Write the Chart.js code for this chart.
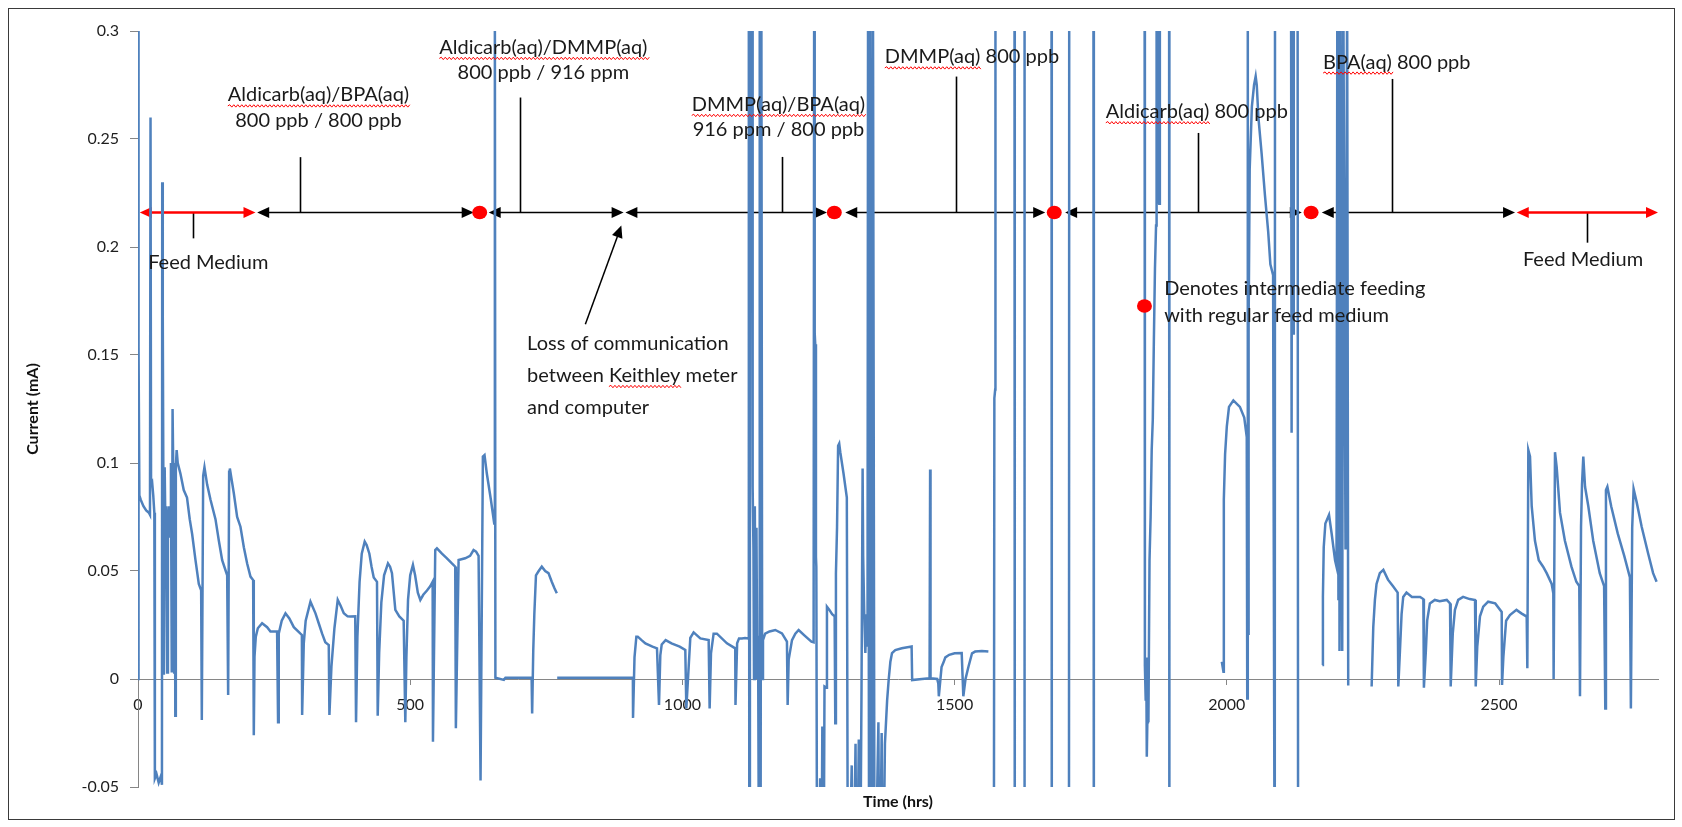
<!DOCTYPE html>
<html>
<head>
<meta charset="utf-8">
<title>Current vs time</title>
<script src="https://cdn.jsdelivr.net/npm/chart.js@4.4.1/dist/chart.umd.min.js"></script>
<style>
  html, body { margin: 0; padding: 0; background: #fff; }
  #wrap { width: 1682px; height: 827px; position: relative; }
</style>
</head>
<body>
<div id="wrap"><canvas id="currentChart"></canvas></div>
<script>
// Keithley readings per feeding phase: [time (hrs), current (mA)]
// null = break in the log; 0.32 / -0.12 = pegged off scale
const feedStart = [
  [0, 0], [0.5, 0.32], [1.5, 0.154], [2.5, 0.085], [5, 0.083], [10, 0.08], [15, 0.078], [20, 0.077], [22, 0.076], [23, 0.26],
  [24, 0.09], [26, 0.091], [28, 0.085], [30, 0.077], [31, -0.046], [34, -0.044], [38, -0.048], [42, -0.045], [44, -0.049], [44.5, 0.23],
  [45.5, 0.168], [46.5, 0.098], [47.5, 0.002], [49, 0.098], [50.5, 0.066], [52, 0.08], [53.5, 0.003], [55, 0.07], [57, 0.08], [59, 0.066],
  [60.5, 0.1], [62, 0.003], [63.5, 0.125], [64.5, 0.103], [66.5, 0.003], [67.5, 0.1], [68.5, -0.017], [69.5, 0.098], [71, 0.106], [73, 0.1],
  [75, 0.098], [78, 0.095], [84, 0.0875], [90, 0.084], [95, 0.074], [99.5, 0.067], [105.6, 0.055], [111.7, 0.044], [116, 0.041], [117.2, -0.019],
  [119.7, 0.094], [122.1, 0.098], [127, 0.09], [133.2, 0.083], [142.3, 0.074], [148.5, 0.064], [154.6, 0.055], [163.8, 0.048], [165.6, -0.0074], [167.4, 0.096],
  [168.7, 0.0975], [176, 0.086], [182.1, 0.075], [188.2, 0.0705], [194.4, 0.061], [200.5, 0.0535], [206.6, 0.0474], [211.5, 0.0458], [212.7, -0.026], [214, 0.0103],
  [216.4, 0.0196]
];
const aldicarbBpa = [
  [220.1, 0.0235], [228, 0.0258], [237.2, 0.024], [243.3, 0.022], [255.5, 0.022], [257.3, -0.02], [258.5, 0.021], [264, 0.027], [270.9, 0.0304], [278, 0.028],
  [286.2, 0.024], [298.4, 0.021], [301, 0.0204], [301.5, -0.0167], [304.5, 0.0165], [308, 0.027], [316.8, 0.0358], [326, 0.0304], [333, 0.025], [338.2, 0.021],
  [344, 0.017], [350.4, 0.0157], [351.6, -0.0167], [355.3, 0.0057], [360.8, 0.0235], [366.9, 0.0366], [372, 0.034], [378, 0.0304], [385, 0.029], [390.2, 0.0289],
  [399, 0.029], [400.5, -0.02], [403, 0.0195], [407, 0.045], [411, 0.058], [416.4, 0.0636], [420, 0.062], [425, 0.058], [429, 0.052], [433, 0.047],
  [439, 0.045], [440.3, -0.017], [443, 0.012], [447, 0.0355], [452, 0.048], [459.2, 0.0535], [463, 0.052], [466.5, 0.049], [472.7, 0.032], [480, 0.029],
  [488, 0.027], [491, -0.02], [493, 0.01], [496, 0.0366], [500, 0.048], [505, 0.0528], [509, 0.048], [514, 0.04], [518.6, 0.0366], [524, 0.039],
  [530.8, 0.041], [537, 0.043], [541.2, 0.045], [541.8, -0.029], [546, 0.0597], [549.1, 0.0605], [558.3, 0.058], [567, 0.056], [576.6, 0.0535], [582.7, 0.052],
  [583.9, -0.0228], [588.9, 0.0551], [601, 0.0559], [610, 0.057], [616.4, 0.0597], [621, 0.059], [625.6, 0.057]
];
const aldicarbDmmp = [
  [629.2, -0.047], [633.5, 0.103], [636.5, 0.1037], [640.8, 0.095], [648.2, 0.083], [654.3, 0.072], [655.5, 0.32], [656.5, 0.0006], [672, -0.0004], [675, 0.0006],
  [723, 0.0006], [724, -0.016], [726, 0.013], [728, 0.03], [731, 0.048], [736, 0.05], [741.7, 0.052], [748, 0.05], [754, 0.049], [760, 0.045],
  [765, 0.042], [769.3, 0.0397], [769.6, null], [770, 0.0006]
];
const dmmpBpa = [
  [909, 0.0006], [909.3, -0.018], [912, 0.01], [915.4, 0.0196], [918, 0.0196], [925, 0.018], [932, 0.0165], [945, 0.015], [953.3, 0.0142], [957, -0.012],
  [959.4, 0.011], [962, 0.016], [969.2, 0.018], [980, 0.0165], [995, 0.015], [1005.3, 0.0134], [1007.2, -0.0136], [1014.5, 0.019], [1020.6, 0.0216], [1032.9, 0.0188],
  [1048.2, 0.018], [1050, -0.0136], [1052.5, 0.0119], [1057.3, 0.021], [1063.4, 0.021], [1081.8, 0.0165], [1097, 0.0142], [1097.5, -0.012], [1100.5, 0.0165], [1104, 0.0188],
  [1109.3, 0.0188], [1115, 0.019], [1121, 0.0188], [1122, 0.32], [1123, -0.12], [1124, 0.32], [1128, 0.32], [1129, 0.089], [1130.5, 0.06], [1131.5, 0],
  [1133, 0.08], [1134.5, 0.003], [1136, 0.07], [1137.5, 0], [1139, 0.02], [1141, -0.12], [1142, 0.32], [1143.5, -0.12], [1145, 0.32], [1146.5, 0],
  [1148, 0.018], [1152, 0.021], [1160, 0.022], [1170.6, 0.0227], [1182.9, 0.0211], [1192, 0.0173], [1193.3, -0.012], [1195.2, 0.009], [1201.3, 0.018], [1207.4, 0.021],
  [1213.5, 0.0227], [1225, 0.02], [1237, 0.0173], [1241, 0.017], [1242, 0.32], [1243, 0.16], [1244, 0.155], [1245.3, 0.0566], [1246, 0.052], [1247.5, -0.12],
  [1250, -0.12], [1253, -0.046], [1255, -0.12], [1257, -0.022], [1259, -0.12], [1261, -0.0035], [1264, -0.004], [1265.5, 0.0335], [1270, 0.032], [1275, 0.03],
  [1279.6, 0.029]
];
const dmmpOnly = [
  [1280.8, -0.0205], [1282, 0.049], [1284, 0.07], [1286, 0.108], [1288, 0.109], [1290, 0.105], [1296, 0.095], [1302, 0.084], [1304.1, -0.12], [1311, -0.04],
  [1313, -0.12], [1318, -0.03], [1320, -0.12], [1324, -0.028], [1326, -0.12], [1329, -0.004], [1331, 0.0975], [1332, 0.057], [1334, 0.03], [1336, 0.012],
  [1338, 0.03], [1340, 0.015], [1341, 0.32], [1343, -0.12], [1345, 0.32], [1348, -0.12], [1350, 0.32], [1353, -0.12], [1360, -0.02], [1362, -0.12],
  [1366, -0.025], [1368, -0.12], [1372, -0.03], [1376, -0.01], [1379, 0], [1382, 0.008], [1385, 0.012], [1391, 0.0134], [1403, 0.0142], [1421, 0.015],
  [1422, -0.0005], [1440, 0], [1454, 0.0003], [1455, 0.097], [1455.5, 0.0736], [1456, 0.0003], [1468, 0], [1470, -0.002], [1471, -0.008], [1476, 0.0055],
  [1480, 0.008], [1483, 0.01], [1490, 0.0112], [1500, 0.0119], [1513, 0.012], [1516, -0.008], [1520, 0], [1525.4, 0.0057], [1532, 0.0119], [1537.7, 0.0127],
  [1550, 0.013], [1562, 0.0127], [1563, null], [1572, -0.12], [1573, 0.13], [1574.5, 0.134], [1575, 0.32], [1610, 0.32], [1610.5, -0.12], [1628, -0.12],
  [1628.5, 0.32], [1678, 0.32]
];
const aldicarbOnly = [
  [1678.5, -0.12], [1710, -0.12], [1710.5, 0.32], [1755, 0.32], [1755.5, -0.12], [1756, 0.32], [1849, 0.32], [1849.5, 0.006], [1851, -0.01], [1852, 0.01],
  [1853, -0.036], [1854, -0.02], [1855, 0.005], [1856, -0.02], [1858, 0.055], [1860, 0.075], [1862, 0.106], [1864, 0.12], [1866, 0.157], [1868, 0.19],
  [1870, 0.21], [1871, 0.32], [1873, 0.22], [1874, 0.32], [1876, 0.22], [1877, 0.32], [1894, 0.32], [1894.5, -0.12], [1895, null], [1990.8, 0.008],
  [1993.8, 0.0034], [1994.5, 0.083], [1996.8, 0.104], [2000, 0.117], [2004, 0.126], [2012, 0.129], [2024, 0.126], [2032, 0.121], [2036.6, 0.112], [2037.5, -0.009],
  [2038.5, 0.32], [2039, 0.021], [2040, 0.163], [2042, 0.236], [2046, 0.265], [2050, 0.275], [2053, 0.279], [2055, 0.275], [2058, 0.26], [2064, 0.243],
  [2070, 0.224], [2076, 0.207], [2080, 0.192], [2085, 0.187], [2088, -0.12], [2088.5, 0.32], [2118, 0.32], [2119, 0.114], [2120, 0.32], [2122, 0.16],
  [2123, 0.32], [2130, 0.32], [2131, -0.12], [2132, null]
];
const bpaOnly = [
  [2175.5, 0.0065], [2176.5, 0.038], [2178, 0.061], [2181, 0.072], [2187.7, 0.076], [2192.7, 0.067], [2198.8, 0.055], [2201.5, 0.052], [2203, 0.32], [2205, 0.037],
  [2206, 0.32], [2207, 0.013], [2209, 0.32], [2211, 0.06], [2212, 0.013], [2214, 0.32], [2218, 0.06], [2221, 0.32], [2223, -0.003], [2224, null],
  [2266, -0.0035], [2269, 0.024], [2272, 0.0366], [2275, 0.044], [2281, 0.049], [2287.5, 0.0505], [2296, 0.046], [2305, 0.043], [2313.8, 0.04], [2315, -0.0035],
  [2318, 0.013], [2321, 0.03], [2324, 0.038], [2330, 0.04], [2340, 0.038], [2355, 0.038], [2361, 0.037], [2362, -0.004], [2365.6, 0.013], [2368, 0.027],
  [2373, 0.035], [2382, 0.0366], [2391, 0.036], [2404, 0.0366], [2410, 0.035], [2411.2, -0.0035], [2415, 0.021], [2419, 0.032], [2425, 0.0366], [2434, 0.038],
  [2446, 0.037], [2455.9, 0.0366], [2457.2, -0.0035], [2460, 0.015], [2465, 0.029], [2471, 0.0335], [2480, 0.0358], [2493, 0.035], [2504.9, 0.031], [2505.5, -0.0028],
  [2508, 0.0103], [2513, 0.027], [2520, 0.0296], [2532, 0.032]
];
const feedEnd = [
  [2541, 0.0304], [2550.8, 0.0289], [2552, 0.005], [2553.8, 0.106], [2556.9, 0.103], [2560, 0.08], [2566, 0.064], [2573, 0.055], [2581, 0.052], [2587.5, 0.049],
  [2596.7, 0.044], [2599.7, 0.0397], [2600.3, 0], [2602.8, 0.105], [2605.9, 0.098], [2612, 0.077], [2621, 0.064], [2633, 0.052], [2642, 0.045], [2647.4, 0.043],
  [2648.7, -0.008], [2650.6, 0.0705], [2652.4, 0.09], [2654.8, 0.103], [2658, 0.089], [2664, 0.08], [2673, 0.064], [2685, 0.049], [2693, 0.043], [2695.2, -0.0136],
  [2696.4, 0.0875], [2699, 0.089], [2706, 0.08], [2718, 0.0674], [2730, 0.057], [2740.4, 0.047], [2742.2, -0.0136], [2744.6, 0.07], [2747.2, 0.088], [2752.7, 0.082],
  [2762, 0.0705], [2774, 0.058], [2783, 0.049], [2789.4, 0.045]
];

const xTicks = [0, 500, 1000, 1500, 2000, 2500];
const xTickLabels = ['0', '500', '1000', '1500', '2000', '2500'];
const yTicks = [-0.05, 0, 0.05, 0.1, 0.15, 0.2, 0.25, 0.3];
const yTickLabels = ['-0.05', '0', '0.05', '0.1', '0.15', '0.2', '0.25', '0.3'];

// phase bar: arrows, feed dots, leader lines and labels (data units)
const arrowRow = 0.216;
const redSpans = [[3.3, 215.8], [2532.5, 2792]];
const blackSpans = [[218.9, 616.6], [644.2, 892], [895.2, 1265.5], [1299.1, 1666.4], [1703, 2137.7], [2174.4, 2529.4]];
const feedDots = [627.6, 1279, 1683, 2154.8];
const leaders = [[101.4, 0.204], [297.1, 0.2416], [702.3, 0.2692], [1182.9, 0.2417], [1502.4, 0.2789], [1947.8, 0.2528], [2304.1, 0.2778], [2661, 0.202]];
const phaseLabels = [
  { text: 'Feed Medium', x: 129.1, y: 0.193 },
  { text: 'Aldicarb(aq)/BPA(aq)', x: 331.4, y: 0.2704, wavy: ['Aldicarb(aq)/BPA(aq)'] },
  { text: '800 ppb / 800 ppb', x: 331.4, y: 0.2587 },
  { text: 'Aldicarb(aq)/DMMP(aq)', x: 744.6, y: 0.2924, wavy: ['Aldicarb(aq)/DMMP(aq)'] },
  { text: '800 ppb / 916 ppm', x: 744.6, y: 0.2806 },
  { text: 'DMMP(aq)/BPA(aq)', x: 1176.4, y: 0.266, wavy: ['DMMP(aq)/BPA(aq)'] },
  { text: '916 ppm / 800 ppb', x: 1176.4, y: 0.2545 },
  { text: 'DMMP(aq) 800 ppb', x: 1531.8, y: 0.288, wavy: ['DMMP(aq)'] },
  { text: 'Aldicarb(aq) 800 ppb', x: 1945, y: 0.2626, wavy: ['Aldicarb(aq)'] },
  { text: 'BPA(aq) 800 ppb', x: 2312.2, y: 0.2856, wavy: ['BPA(aq)'] },
  { text: 'Feed Medium', x: 2654.3, y: 0.1942 },
  { text: 'Loss of communication', x: 714.7, y: 0.1551, left: true },
  { text: 'between Keithley meter', x: 714.7, y: 0.1405, left: true, wavy: ['Keithley'] },
  { text: 'and computer', x: 714.7, y: 0.1256, left: true },
  { text: 'Denotes intermediate feeding', x: 1884.9, y: 0.1806, left: true },
  { text: 'with regular feed medium', x: 1884.9, y: 0.1683, left: true }
];
const lossArrow = { from: [821.7, 0.1642], to: [887.8, 0.2099] };
const legendDot = [1848.7, 0.1727];

const RED = '#ff0000';
const labelFont = '20px Lato';

function arrowHead(ctx, tx, ty, angle, color) {
  const len = 12, half = 5.5;
  ctx.save();
  ctx.translate(tx, ty);
  ctx.rotate(angle);
  ctx.beginPath();
  ctx.moveTo(0, 0);
  ctx.lineTo(-len, -half);
  ctx.lineTo(-len, half);
  ctx.closePath();
  ctx.fillStyle = color;
  ctx.fill();
  ctx.restore();
}

function doubleArrow(ctx, x0, x1, y, color, width) {
  ctx.strokeStyle = color;
  ctx.lineWidth = width;
  ctx.beginPath();
  ctx.moveTo(x0 + 6, y);
  ctx.lineTo(x1 - 6, y);
  ctx.stroke();
  arrowHead(ctx, x0, y, Math.PI, color);
  arrowHead(ctx, x1, y, 0, color);
}

function wavy(ctx, x0, x1, y) {
  ctx.strokeStyle = RED;
  ctx.lineWidth = 1;
  ctx.beginPath();
  ctx.moveTo(x0, y);
  let up = true;
  for (let x = x0; x < x1; x += 2) {
    ctx.lineTo(x + 2, up ? y - 1.2 : y + 1.2);
    up = !up;
  }
  ctx.stroke();
}

function label(ctx, item, px, py) {
  ctx.font = labelFont;
  ctx.textAlign = 'left';
  ctx.textBaseline = 'middle';
  ctx.fillStyle = '#1a1a1a';
  const w = ctx.measureText(item.text).width;
  const left = item.left ? px : px - w / 2;
  ctx.fillText(item.text, left, py);
  (item.wavy || []).forEach(part => {
    const i = item.text.indexOf(part);
    if (i < 0) return;
    const a = left + ctx.measureText(item.text.slice(0, i)).width;
    wavy(ctx, a, a + ctx.measureText(part).width, py + 11);
  });
}

const phaseMarks = {
  id: 'phaseMarks',
  beforeDraw(chart) {
    const { ctx, width, height } = chart;
    ctx.save();
    ctx.fillStyle = '#fff';
    ctx.fillRect(0, 0, width, height);
    ctx.strokeStyle = '#3a3a3a';
    ctx.lineWidth = 1;
    ctx.strokeRect(8.5, 8.5, width - 16, height - 16);
    ctx.restore();
  },
  beforeDatasetsDraw(chart) {
    const { ctx } = chart;
    const { x, y } = chart.scales;
    const rowY = y.getPixelForValue(arrowRow);
    ctx.save();
    ctx.strokeStyle = '#000';
    ctx.lineWidth = 1.6;
    leaders.forEach(([h, v]) => {
      const px = Math.round(x.getPixelForValue(h)) + 0.5;
      ctx.beginPath();
      ctx.moveTo(px, rowY);
      ctx.lineTo(px, y.getPixelForValue(v));
      ctx.stroke();
    });
    blackSpans.forEach(([a, b]) => doubleArrow(ctx, x.getPixelForValue(a), x.getPixelForValue(b), rowY, '#000', 1.6));
    redSpans.forEach(([a, b]) => doubleArrow(ctx, x.getPixelForValue(a), x.getPixelForValue(b), rowY, RED, 2.6));
    ctx.restore();
  },
  afterDatasetsDraw(chart) {
    const { ctx } = chart;
    const { x, y } = chart.scales;
    const rowY = y.getPixelForValue(arrowRow);
    ctx.save();
    ctx.fillStyle = RED;
    const dots = feedDots.map(h => [x.getPixelForValue(h), rowY]);
    dots.push([x.getPixelForValue(legendDot[0]), y.getPixelForValue(legendDot[1])]);
    dots.forEach(([px, py]) => {
      ctx.beginPath();
      ctx.ellipse(px, py, 7.5, 6.8, 0, 0, Math.PI * 2);
      ctx.fill();
    });
    // pointer to the logging gap
    const fx = x.getPixelForValue(lossArrow.from[0]), fy = y.getPixelForValue(lossArrow.from[1]);
    const tx = x.getPixelForValue(lossArrow.to[0]), ty = y.getPixelForValue(lossArrow.to[1]);
    const ang = Math.atan2(ty - fy, tx - fx);
    ctx.strokeStyle = '#000';
    ctx.lineWidth = 1.5;
    ctx.beginPath();
    ctx.moveTo(fx, fy);
    ctx.lineTo(tx - Math.cos(ang) * 8, ty - Math.sin(ang) * 8);
    ctx.stroke();
    arrowHead(ctx, tx, ty, ang, '#000');
    phaseLabels.forEach(item => label(ctx, item, x.getPixelForValue(item.x), y.getPixelForValue(item.y)));
    ctx.restore();
  }
};

const readings = [].concat(feedStart, aldicarbBpa, aldicarbDmmp, dmmpBpa, dmmpOnly, aldicarbOnly, bpaOnly, feedEnd);

new Chart(document.getElementById('currentChart'), {
  type: 'line',
  data: {
    datasets: [{
      data: readings.map(([h, v]) => ({ x: h, y: v })),
      borderColor: '#4f81bd',
      borderWidth: 2.5,
      pointRadius: 0,
      tension: 0,
      spanGaps: false
    }]
  },
  options: {
    responsive: true,
    maintainAspectRatio: false,
    animation: false,
    layout: { padding: { left: 18, top: 31, right: 24, bottom: 8 } },
    plugins: { legend: { display: false }, tooltip: { enabled: false } },
    scales: {
      x: {
        type: 'linear',
        min: 0,
        max: 2792,
        position: { y: 0 },
        afterBuildTicks: s => { s.ticks = xTicks.map(v => ({ value: v })); },
        grid: { drawOnChartArea: false, tickLength: 5, color: '#868686' },
        border: { color: '#868686', width: 1 },
        ticks: {
          font: { family: 'Lato', size: 16 },
          color: '#1e1e1e',
          padding: 11,
          maxRotation: 0,
          callback: (v, i) => xTickLabels[i]
        }
      },
      xTitle: {
        type: 'linear',
        axis: 'x',
        position: 'bottom',
        min: 0,
        max: 2792,
        grid: { display: false },
        border: { display: false },
        ticks: { display: false },
        title: { display: true, text: 'Time (hrs)', color: '#111', font: { family: 'Lato', size: 16, weight: 'bold' }, padding: { top: 0, bottom: 8 } },
        afterFit: s => { s.height = 32; }
      },
      y: {
        min: -0.05,
        max: 0.3,
        afterBuildTicks: s => { s.ticks = yTicks.map(v => ({ value: v })); },
        grid: { drawOnChartArea: false, tickLength: 8, color: '#868686' },
        border: { color: '#868686', width: 1 },
        ticks: {
          font: { family: 'Lato', size: 16 },
          color: '#1e1e1e',
          padding: 11,
          callback: (v, i) => yTickLabels[i]
        },
        title: { display: true, text: 'Current (mA)', color: '#111', font: { family: 'Lato', size: 16, weight: 'bold' }, padding: { top: 5, bottom: 0 } },
        afterFit: s => { s.width = 120; }
      }
    }
  },
  plugins: [phaseMarks]
});
</script>
</body>
</html>
